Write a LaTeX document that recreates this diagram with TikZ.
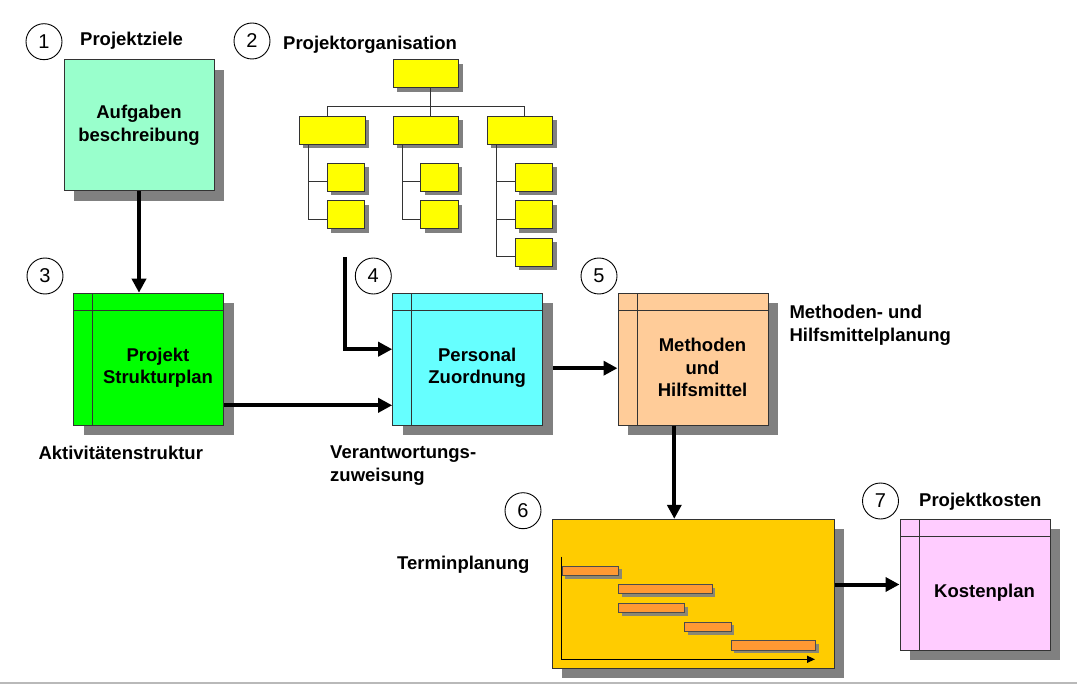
\documentclass[tikz,border=0pt]{standalone}
\usepackage{fontspec}
\setmainfont{Liberation Sans}
\usetikzlibrary{arrows.meta,shadows}
\definecolor{mint}{HTML}{99FFCC}
\definecolor{boxgreen}{HTML}{00FF00}
\definecolor{boxcyan}{HTML}{66FFFF}
\definecolor{boxpeach}{HTML}{FFCC99}
\definecolor{boxgold}{HTML}{FFCC00}
\definecolor{baror}{HTML}{FF9933}
\definecolor{boxpink}{HTML}{FFCCFF}
\definecolor{orgyellow}{HTML}{FFFF00}
\definecolor{shadowgray}{HTML}{808080}
\definecolor{edgegray}{HTML}{333333}
\begin{document}
\begin{tikzpicture}[x=1pt,y=-1pt,
  lbl/.style={font=\fontsize{18.5}{22.5}\selectfont\bfseries, inner sep=0pt, align=left},
  boxtext/.style={font=\fontsize{18.5}{22.5}\selectfont\bfseries, align=center, inner sep=0pt},
  num/.style={circle, draw=black, fill=white, line width=0.9pt, minimum size=36pt, inner sep=0pt, font=\fontsize{20}{22}\selectfont},
  bigbox/.style={draw=edgegray, line width=1pt, inner sep=0pt,
    drop shadow={shadow xshift=10pt, shadow yshift=-10pt, fill=shadowgray, opacity=1}},
  tablebox/.style={bigbox, minimum width=150pt, minimum height=132pt,
    path picture={
      \draw[edgegray, line width=1pt] ([xshift=19pt]path picture bounding box.north west) -- ([xshift=19pt]path picture bounding box.south west);
      \draw[edgegray, line width=1pt] ([yshift=-17pt]path picture bounding box.north west) -- ([yshift=-17pt]path picture bounding box.north east);}},
  tabletext/.style={boxtext, xshift=9.5pt, yshift=-8.5pt},
  orgbox/.style={fill=orgyellow, draw=black!80, line width=0.9pt, inner sep=0pt, anchor=north west,
    minimum height=28pt, drop shadow={shadow xshift=4pt, shadow yshift=-4pt, fill=shadowgray, opacity=1}},
  orgwide/.style={orgbox, minimum width=65.5pt},
  orgsmall/.style={orgbox, minimum width=37.6pt},
  orgline/.style={draw=black!80, line width=1pt},
  conn/.style={draw=black, line width=4pt, -{Triangle[length=14pt,width=14pt]}},
  axisline/.style={draw=black, line width=1.3pt, -{Triangle[length=8pt,width=7pt]}},
  bar/.style={fill=baror, draw=black!70, line width=1pt, inner sep=0pt, anchor=north west,
    minimum height=9.3pt, drop shadow={shadow xshift=3pt, shadow yshift=-3pt, fill=shadowgray, opacity=0.9}}
]
\useasboundingbox (0,0) rectangle (1077,687);

% numbers
\node[num] (n1) at (44,41.7) {1};
\node[num] (n2) at (252,41) {2};
\node[num] (n3) at (45,276) {3};
\node[num] (n4) at (373.3,276) {4};
\node[num] (n5) at (599,276) {5};
\node[num] (n6) at (523,510.7) {6};
\node[num] (n7) at (880.5,501) {7};

% labels
\node[lbl, anchor=base west] (l1) at (80,46) {Projektziele};
\node[lbl, anchor=base west] (l2) at (283,50) {Projektorganisation};
\node[lbl, anchor=base west] (l3) at (38.3,459.3) {Aktivitätenstruktur};
\node[lbl, anchor=north west] (l4) at (330,446) {Verantwortungs-\\zuweisung};
\node[lbl, anchor=north west] (l5) at (789.3,305) {Methoden- und\\Hilfsmittelplanung};
\node[lbl, anchor=base west] (l6) at (397,569.3) {Terminplanung};
\node[lbl, anchor=base west] (l7) at (919,506.7) {Projektkosten};

% box 1
\node[bigbox, fill=mint, minimum width=150pt, minimum height=131pt, boxtext] (b1) at (139,125.3) {Aufgaben\\beschreibung};

% org chart
\node[orgwide] (o0) at (392.7,59.3) {};
\node[orgwide] (oa) at (299,116) {};
\node[orgwide] (ob) at (392.7,116) {};
\node[orgwide] (oc) at (486.7,116) {};
\node[orgsmall] (oa1) at (326.7,162.7) {};
\node[orgsmall] (oa2) at (326.7,200.2) {};
\node[orgsmall] (ob1) at (420.4,162.7) {};
\node[orgsmall] (ob2) at (420.4,200.2) {};
\node[orgsmall] (oc1) at (514.7,162.7) {};
\node[orgsmall] (oc2) at (514.7,200.2) {};
\node[orgsmall] (oc3) at (514.7,237.7) {};
\draw[orgline] ([xshift=4.5pt]o0.south) -- ([xshift=4.5pt]ob.north);
\draw[orgline] ([xshift=-4.8pt]oa.north) -- ++(0,-9.3) -| ([xshift=4.8pt]oc.north);
\draw[orgline] ([xshift=9.3pt]oa.south west) |- ([yshift=-4.5pt]oa2.west);
\draw[orgline] ([yshift=-4.5pt]oa1.west) -- ++(-18.4,0);
\draw[orgline] ([xshift=9.3pt]ob.south west) |- ([yshift=-4.5pt]ob2.west);
\draw[orgline] ([yshift=-4.5pt]ob1.west) -- ++(-18.4,0);
\draw[orgline] ([xshift=9.3pt]oc.south west) |- ([yshift=-4.5pt]oc3.west);
\draw[orgline] ([yshift=-4.5pt]oc1.west) -- ++(-18.7,0);
\draw[orgline] ([yshift=-4.5pt]oc2.west) -- ++(-18.7,0);

% table boxes
\node[tablebox, fill=boxgreen] (b3) at (148.5,359.2) {};
\node[tabletext] (t3) at (b3.center) {Projekt\\Strukturplan};
\node[tablebox, fill=boxcyan] (b4) at (467.7,359.2) {};
\node[tabletext] (t4) at (b4.center) {Personal\\Zuordnung};
\node[tablebox, fill=boxpeach] (b5) at (693,359.2) {};
\node[tabletext] (t5) at (b5.center) {Methoden\\und\\Hilfsmittel};
\node[tablebox, fill=boxpink, minimum height=131pt] (b7) at (975,584.5) {};
\node[tabletext] (t7) at (b7.center) {Kostenplan};

% gantt
\node[bigbox, fill=boxgold, minimum width=281.7pt, minimum height=149pt] (gantt) at (693.2,593.8) {};
\coordinate (gy) at (561.7,556.7);
\coordinate (go) at (561.7,659.3);
\coordinate (gx) at (815,659.3);
\draw[axisline] (gy) -- (go) -- (gx);
\node[bar, minimum width=56.6pt] (g1) at (561.7,565.7) {};
\node[bar, minimum width=93.4pt] (g2) at (618.3,584) {};
\node[bar, minimum width=65.7pt] (g3) at (618.3,603) {};
\node[bar, minimum width=46.7pt] (g4) at (684,621.7) {};
\node[bar, minimum width=84.6pt] (g5) at (730.7,640.3) {};

% connectors
\coordinate (orgend) at (345,257);
\coordinate (b5out) at ([xshift=-18.7pt]b5.south);
\draw[conn] (b1.south) -- (b1.south |- b3.north);
\draw[conn] (orgend) |- ([yshift=10pt]b4.west);
\draw[conn] ([yshift=-46.1pt]b3.east) -- ([yshift=-46.1pt]b4.west);
\draw[conn] ([xshift=10pt,yshift=-9pt]b4.east) -- ([yshift=-9pt]b5.west);
\draw[conn] (b5out) -- (b5out |- gantt.north);
\draw[conn] (gantt.east |- b7.west) -- (b7.west);

% bottom rule
\draw[gray!55, line width=1.5pt] (0,683) -- (1077,683);
\end{tikzpicture}
\end{document}
